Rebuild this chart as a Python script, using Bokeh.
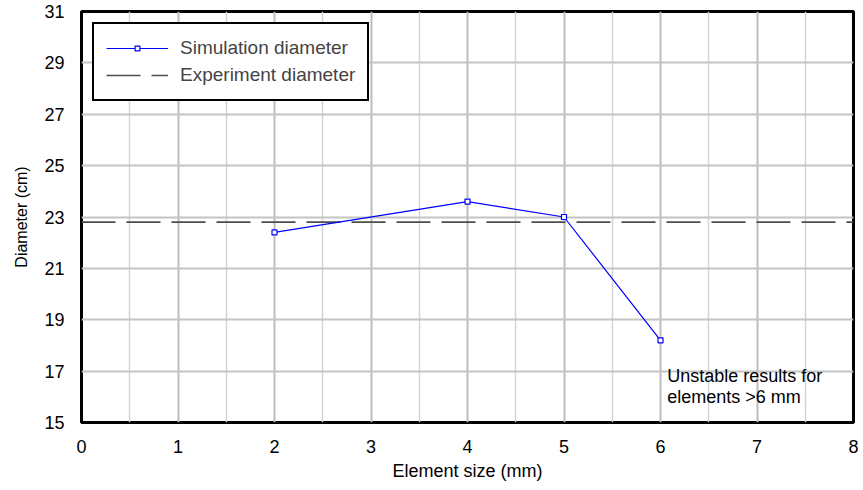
from bokeh.plotting import figure
from bokeh.models import FixedTicker, Range1d, Legend, LegendItem
from bokeh.embed import file_html
from bokeh.resources import INLINE
from bokeh.core.properties import value

# ---- data ----
element_size = [2, 4, 5, 6]
sim_diameter = [22.4, 23.6, 23.0, 18.2]
exp_x = [0, 8]
exp_diameter = [22.8, 22.8]
x_ticks = [0, 1, 2, 3, 4, 5, 6, 7, 8]
x_minor = [0.5, 1.5, 2.5, 3.5, 4.5, 5.5, 6.5, 7.5]
y_ticks = [15, 17, 19, 21, 23, 25, 27, 29, 31]
note_lines = ["Unstable results for", "elements >6 mm"]
note_x = [6.07, 6.07]
note_y = [16.82, 15.98]

FONT = "Liberation Sans"

p = figure(width=858, height=483, output_backend="svg", toolbar_location=None,
           x_range=Range1d(0, 8), y_range=Range1d(15, 31),
           min_border_left=81, min_border_right=5, min_border_top=11, min_border_bottom=60)

p.outline_line_color = "black"
p.outline_line_width = 3
p.background_fill_color = "white"

p.xaxis.ticker = FixedTicker(ticks=x_ticks, minor_ticks=x_minor)
p.yaxis.ticker = FixedTicker(ticks=y_ticks)

for ax in (p.xaxis[0], p.yaxis[0]):
    ax.axis_line_color = None
    ax.major_tick_line_color = None
    ax.minor_tick_line_color = None
    ax.major_label_text_font = FONT
    ax.major_label_text_font_size = "18px"
    ax.major_label_text_color = "black"
    ax.major_label_standoff = 11
    ax.axis_label_text_font = FONT
    ax.axis_label_text_font_style = "normal"
    ax.axis_label_text_color = "black"

p.xaxis.axis_label = "Element size (mm)"
p.xaxis.axis_label_text_font_size = "18px"
p.xaxis.axis_label_standoff = 5
p.yaxis.axis_label = "Diameter (cm)"
p.yaxis.axis_label_text_font_size = "16px"
p.yaxis.axis_label_standoff = 11

p.xgrid.grid_line_color = "#bdbdbd"
p.xgrid.grid_line_width = 2
p.xgrid.minor_grid_line_color = "#d4d4d4"
p.xgrid.minor_grid_line_width = 1.5
p.ygrid.grid_line_color = "#c4c4c4"
p.ygrid.grid_line_width = 2

exp_r = p.line(exp_x, exp_diameter, line_color="#4d4d4d", line_width=1.6, line_dash="34 11")
sim_l = p.line(element_size, sim_diameter, line_color="#0000ff", line_width=1.2)
sim_m = p.scatter(element_size, sim_diameter, marker="square", size=5,
                  fill_color="white", line_color="#0000ff", line_width=1.2)

p.text(x=note_x, y=note_y, text=note_lines, text_font=value(FONT), text_font_size="18px",
       text_align="left", text_baseline="middle", text_color="black")

legend = Legend(items=[
    LegendItem(label="Simulation diameter", renderers=[sim_l, sim_m]),
    LegendItem(label="Experiment diameter", renderers=[exp_r]),
], location="top_left")
legend.margin = 11
legend.border_line_color = "black"
legend.border_line_alpha = 1
legend.border_line_width = 2.5
legend.background_fill_alpha = 1
legend.label_text_font = FONT
legend.label_text_font_size = "19px"
legend.glyph_width = 62
legend.glyph_height = 12
legend.label_height = 24
legend.label_standoff = 12
legend.spacing = 3
legend.padding = 12
p.add_layout(legend, "center")

open("out.html", "w").write(file_html(p, INLINE))
